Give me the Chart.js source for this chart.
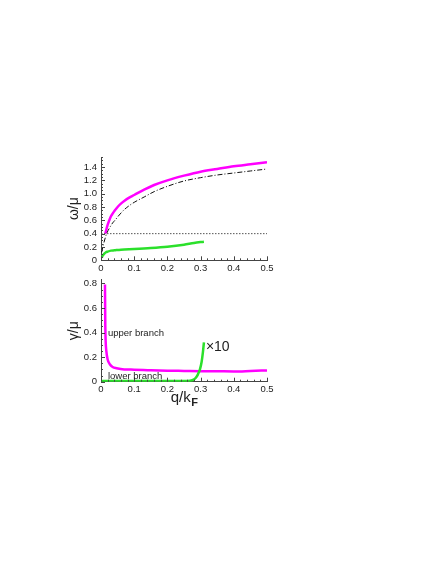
<!DOCTYPE html>
<html>
<head>
<meta charset="utf-8">
<script src="https://cdn.jsdelivr.net/npm/chart.js@4/dist/chart.umd.min.js"></script>
<style>
  html, body { margin: 0; padding: 0; background: #fff; }
  body { width: 436px; height: 564px; position: relative; overflow: hidden; }
  canvas { position: absolute; }
  #top { left: 60px; top: 0; }
  #bottom { left: 60px; top: 270px; }
</style>
</head>
<body>
<canvas id="top" width="376" height="280"></canvas>
<canvas id="bottom" width="376" height="140"></canvas>
<script>
// ---- data ----
const xTicks = [0, 0.1, 0.2, 0.3, 0.4, 0.5];
const omegaTicks = [0, 0.2, 0.4, 0.6, 0.8, 1.0, 1.2, 1.4];
const gammaTicks = [0, 0.2, 0.4, 0.6, 0.8];

// top panel: omega / mu
const upperQ = [0.013, 0.017, 0.02, 0.025, 0.03, 0.035, 0.042, 0.05, 0.06, 0.07, 0.085, 0.1, 0.13, 0.16, 0.2, 0.25, 0.3, 0.35, 0.4, 0.45, 0.5];
const upperOmega = [0.40, 0.48, 0.53, 0.60, 0.66, 0.70, 0.75, 0.80, 0.85, 0.89, 0.94, 0.98, 1.06, 1.13, 1.20, 1.27, 1.33, 1.37, 1.41, 1.44, 1.47];

const refQ = [0.002, 0.008, 0.013, 0.017, 0.025, 0.035, 0.042, 0.055, 0.07, 0.085, 0.1, 0.13, 0.16, 0.2, 0.25, 0.3, 0.35, 0.4, 0.45, 0.5];
const refOmega = [0.12, 0.25, 0.34, 0.40, 0.48, 0.56, 0.60, 0.68, 0.76, 0.82, 0.87, 0.95, 1.03, 1.11, 1.19, 1.24, 1.28, 1.31, 1.34, 1.37];

const lowerQ = [0.002, 0.005, 0.01, 0.015, 0.02, 0.03, 0.04, 0.06, 0.1, 0.15, 0.2, 0.25, 0.28, 0.31];
const lowerOmega = [0.04, 0.07, 0.10, 0.12, 0.13, 0.145, 0.15, 0.16, 0.17, 0.185, 0.205, 0.235, 0.26, 0.28];

const flatQ = [0, 0.5];
const flatOmega = [0.4, 0.4];

// bottom panel: gamma / mu
const upperGQ = [0.012, 0.0125, 0.013, 0.014, 0.016, 0.02, 0.027, 0.035, 0.047, 0.07, 0.1, 0.15, 0.2, 0.25, 0.3, 0.35, 0.4, 0.45, 0.5];
const upperGamma = [0.79, 0.60, 0.45, 0.33, 0.25, 0.18, 0.14, 0.12, 0.11, 0.10, 0.098, 0.093, 0.09, 0.088, 0.086, 0.085, 0.083, 0.087, 0.092];

const lowerGQ = [0, 0.1, 0.2, 0.26, 0.275, 0.285, 0.292, 0.298, 0.303, 0.307, 0.31];
const lowerGamma = [0.005, 0.005, 0.005, 0.006, 0.012, 0.03, 0.06, 0.1, 0.16, 0.24, 0.32];

const MAGENTA = "#f0f";
const GREEN = "#2be02b";
const FONT = "'Liberation Sans', Arial, sans-serif";

const pts = (xs, ys) => xs.map((x, i) => ({ x, y: ys[i] }));
const fmt = (v) => (v === 0 ? "0" : v.toFixed(1));

// Mathematica-style inward ticks (major + minor)
const inwardTicks = {
  id: "inwardTicks",
  afterDatasetsDraw(chart) {
    const { ctx } = chart;
    const xs = chart.scales.x, ys = chart.scales.y;
    ctx.save();
    ctx.strokeStyle = "#444";
    ctx.lineWidth = 1;
    const tick = (px, py, dx, dy) => {
      ctx.beginPath();
      ctx.moveTo(px, py);
      ctx.lineTo(px + dx, py + dy);
      ctx.stroke();
    };
    for (let v = 0; v <= xs.max + 1e-9; v += 0.02) {
      const major = Math.abs(v * 10 - Math.round(v * 10)) < 1e-6;
      const px = Math.round(xs.getPixelForValue(v)) + 0.5;
      tick(px, ys.bottom, 0, major ? -4 : -2);
    }
    for (let v = 0; v <= ys.max + 1e-9; v += 0.05) {
      const major = Math.abs(v * 5 - Math.round(v * 5)) < 1e-6;
      const py = Math.round(ys.getPixelForValue(v)) + 0.5;
      tick(xs.left, py, major ? 4 : 2, 0);
    }
    ctx.restore();
  },
};

// free text labels placed through the scales
const notes = {
  id: "notes",
  afterDraw(chart, args, opts) {
    const { ctx, chartArea } = chart;
    const xs = chart.scales.x, ys = chart.scales.y;
    ctx.save();
    ctx.fillStyle = "#222";
    ctx.textBaseline = "middle";
    (opts.items || []).forEach((it) => {
      ctx.font = it.font;
      ctx.textAlign = it.align || "left";
      ctx.fillText(it.text, xs.getPixelForValue(it.x), ys.getPixelForValue(it.y));
    });
    if (opts.xTitle) {
      // axis title with a bold subscript F
      const cx = (chartArea.left + chartArea.right) / 2;
      const cy = chartArea.bottom + 16;
      ctx.font = "15px " + FONT;
      ctx.textAlign = "left";
      const main = "q/k";
      const w1 = ctx.measureText(main).width;
      ctx.font = "bold 11px " + FONT;
      const w2 = ctx.measureText("F").width;
      const x0 = cx - (w1 + w2) / 2;
      ctx.font = "15px " + FONT;
      ctx.fillText(main, x0, cy);
      ctx.font = "bold 11px " + FONT;
      ctx.fillText("F", x0 + w1 + 0.5, cy + 5);
    }
    ctx.restore();
  },
};

const xScale = (pad) => ({
  type: "linear",
  min: 0,
  max: 0.5,
  afterBuildTicks: (s) => { s.ticks = xTicks.map((v) => ({ value: v })); },
  afterFit: (s) => { s.height = pad; },
  grid: { display: false, drawTicks: false },
  border: { display: true, color: "#444", width: 1 },
  ticks: { autoSkip: false, padding: 2, color: "#222", font: { family: FONT, size: 9.5 }, callback: fmt, maxRotation: 0 },
});

const yScale = (max, tickVals, title) => ({
  type: "linear",
  min: 0,
  max: max,
  afterBuildTicks: (s) => { s.ticks = tickVals.map((v) => ({ value: v })); },
  afterFit: (s) => { s.width = 41; },
  grid: { display: false, drawTicks: false },
  border: { display: true, color: "#444", width: 1 },
  ticks: { autoSkip: false, padding: 4, color: "#222", font: { family: FONT, size: 9.5 }, callback: fmt },
  title: { display: true, text: title, color: "#222", font: { family: FONT, size: 14 }, padding: { top: 6, bottom: 0 } },
});

const line = (data, color, width, extra) => Object.assign({
  data,
  borderColor: color,
  borderWidth: width,
  pointRadius: 0,
  fill: false,
  cubicInterpolationMode: "monotone",
}, extra || {});

const baseOptions = (padTop, xPad, yMax, yTickVals, yTitle, notesOpts) => ({
  responsive: false,
  animation: false,
  layout: { padding: { top: padTop, left: 0, right: 169, bottom: 0 } },
  plugins: { legend: { display: false }, tooltip: { enabled: false }, notes: notesOpts },
  scales: { x: xScale(xPad), y: yScale(yMax, yTickVals, yTitle) },
});

new Chart(document.getElementById("top"), {
  type: "line",
  data: {
    datasets: [
      line(pts(flatQ, flatOmega), "#555", 1, { borderDash: [1.5, 1.5], cubicInterpolationMode: "default" }),
      line(pts(refQ, refOmega), "#111", 1, { borderDash: [5, 2, 1, 2] }),
      line(pts(lowerQ, lowerOmega), GREEN, 2.5),
      line(pts(upperQ, upperOmega), MAGENTA, 2.5),
    ],
  },
  options: baseOptions(157, 19.7, 1.55, omegaTicks, "ω/μ", { items: [] }),
  plugins: [inwardTicks, notes],
});

new Chart(document.getElementById("bottom"), {
  type: "line",
  data: {
    datasets: [
      line(pts(lowerGQ, lowerGamma), GREEN, 2.5),
      line(pts(upperGQ, upperGamma), MAGENTA, 2.5),
    ],
  },
  options: baseOptions(8, 28.3, 0.83, gammaTicks, "γ/μ", {
    xTitle: true,
    items: [
      { text: "upper branch", x: 0.021, y: 0.39, font: "9.5px " + FONT },
      { text: "lower branch", x: 0.021, y: 0.045, font: "9.5px " + FONT },
      { text: "×10", x: 0.316, y: 0.28, font: "14px " + FONT },
    ],
  }),
  plugins: [inwardTicks, notes],
});
</script>
</body>
</html>
